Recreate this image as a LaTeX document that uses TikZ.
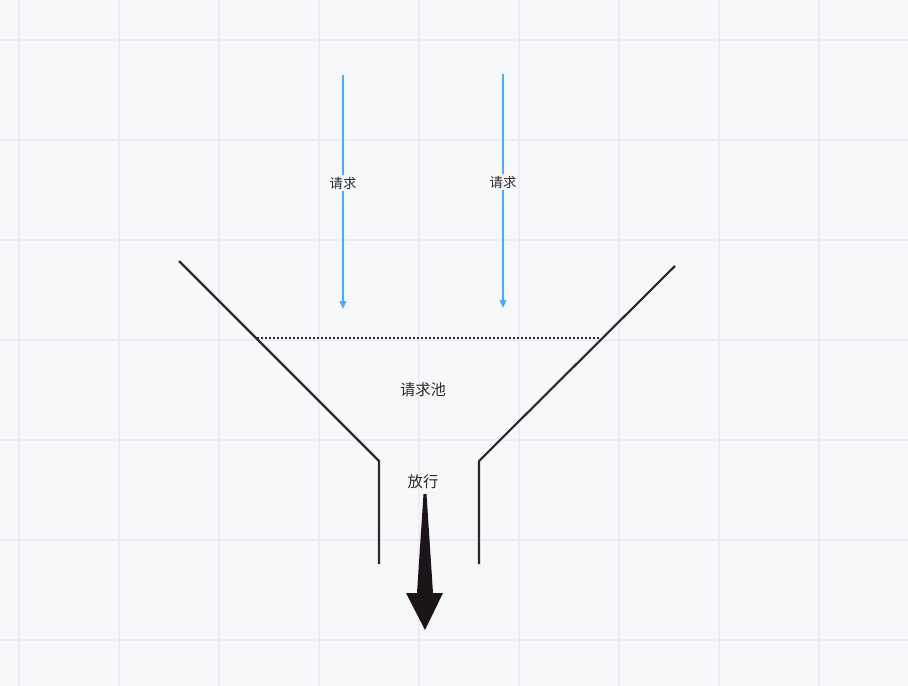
\documentclass[tikz,border=0pt]{standalone}
\usepackage{fontspec}
\newfontfamily\cjk{Noto Sans CJK SC}
\usetikzlibrary{arrows.meta}
\definecolor{pagebg}{HTML}{F7F8FA}
\definecolor{gridline}{HTML}{ECEDF0}
\definecolor{reqblue}{HTML}{4DA8FF}
\definecolor{funnelc}{HTML}{2B282B}
\definecolor{textc}{HTML}{2A2A2A}
\definecolor{passc}{HTML}{1B1519}
\tikzset{
  reqarrow/.style={reqblue, line width=1.3pt, -{Triangle[length=6pt,width=5pt]}},
  funnel/.style={funnelc, line width=1.6pt},
  lbl/.style={font=\cjk\fontsize{10}{12}\selectfont, text=textc, inner sep=1.5pt},
  biglbl/.style={lbl, font=\cjk\fontsize{11.5}{13}\selectfont},
  reqlbl/.style={lbl, fill=pagebg}
}
\begin{document}
\begin{tikzpicture}[x=0.75pt,y=-0.75pt]
    \fill [pagebg] (0,0) rectangle (908,686);
    \useasboundingbox (0,0) rectangle (908,686);
    \foreach \gx in {19,119,...,819} \draw [gridline, line width=0.8pt] (\gx,0) -- (\gx,686);
    \foreach \gy in {40,140,...,640} \draw [gridline, line width=0.8pt] (0,\gy) -- (908,\gy);
    % incoming requests
    \coordinate (reqAtop) at (343,75);
    \coordinate (reqAend) at (343,309);
    \coordinate (reqBtop) at (503,74);
    \coordinate (reqBend) at (503,308);
    \draw [reqarrow] (reqAtop) -- (reqAend);
    \draw [reqarrow] (reqBtop) -- (reqBend);
    \node [reqlbl] (reqA) at (343,183) {请求};
    \node [reqlbl] (reqB) at (503,182) {请求};
    % funnel
    \coordinate (lTop) at (179,261);
    \coordinate (lNeck) at (379,461);
    \coordinate (lBot) at (379,564);
    \coordinate (rTop) at (675,266);
    \coordinate (rNeck) at (479,461);
    \coordinate (rBot) at (479,564);
    \draw [funnel] (lTop) -- (lNeck) -- (lBot);
    \draw [funnel] (rTop) -- (rNeck) -- (rBot);
    \coordinate (levelL) at (257,338);
    \coordinate (levelR) at (601,338);
    \draw [funnelc, line width=1.3pt, dash pattern=on 1.5pt off 1.5pt] (levelL) -- (levelR);
    \node [biglbl] (pool) at (423,390) {请求池};
    \node [biglbl] (pass) at (423,482) {放行};
    % outgoing arrow
    \coordinate (outTip) at (425,630);
    \fill [passc] (423.5,494) -- (426.5,494) -- (433,593) -- (443,593)
        -- (outTip) -- (406,593) -- (417,593) -- cycle;
\end{tikzpicture}
\end{document}
